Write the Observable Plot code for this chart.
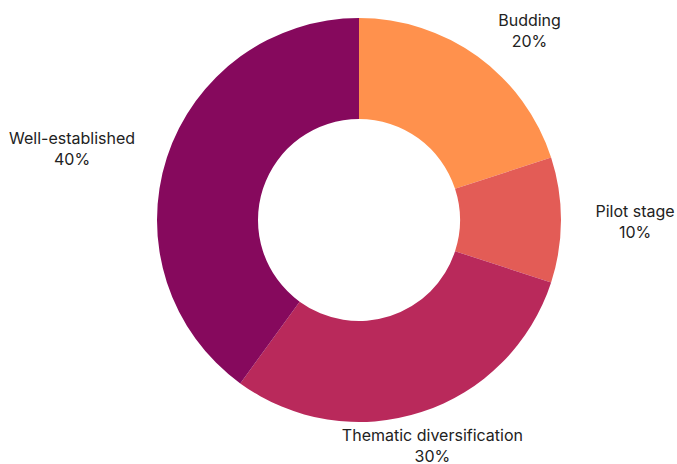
<!DOCTYPE html>
<html>
<head>
<meta charset="utf-8">
<script src="https://cdn.jsdelivr.net/npm/d3@7"></script>
<script src="https://cdn.jsdelivr.net/npm/@observablehq/plot@0.6"></script>
<style>
  html, body { margin: 0; padding: 0; background: #ffffff; }
  #chart { width: 677px; height: 464px; }
</style>
</head>
<body>
<div id="chart"></div>
<script>
// ---- Data ----
const categories = ["Budding", "Pilot stage", "Thematic diversification", "Well-established"];
const shares = [20, 10, 30, 40];
const sliceColors = ["#FF914D", "#E35C56", "#B9295B", "#86095D"];

// ---- Layout ----
const W = 677, H = 464;
const cx = 359, cy = 220;
const outerR = 202, innerR = 101;
const labelR = 236;
const FONT = "Inter, 'Noto Sans', sans-serif";
const FS = 16;

const data = categories.map((c, i) => ({category: c, value: shares[i]}));
const arcs = d3.pie().sort(null).value(d => d.value)(data);

// text measuring
const ctx = document.createElement("canvas").getContext("2d");
ctx.font = `${FS}px Inter`;
const measure = s => ctx.measureText(s).width;

const labels = arcs.map(a => {
  const mid = (a.startAngle + a.endAngle) / 2;
  const s = Math.sin(mid), c = Math.cos(mid);
  const px = cx + s * labelR;
  const py = cy - c * labelR;
  const lines = [a.data.category, a.data.value + "%"];
  const w = Math.max(...lines.map(measure));
  let x = px;
  if (s > 0.4) x = px + w / 2;
  else if (s < -0.4) x = px - w / 2;
  return {x, y: py, text: lines.join("\n"), category: a.data.category};
});

const color = d3.scaleOrdinal().domain(categories).range(sliceColors);

function donutMark(index, scales, values, dimensions) {
  const g = d3.create("svg:g");
  const arcGen = d3.arc().innerRadius(innerR).outerRadius(outerR);
  const X = scales.x(cx), Y = scales.y(cy);
  g.attr("transform", `translate(${X},${Y})`);
  g.selectAll("path")
    .data(arcs)
    .join("path")
    .attr("d", arcGen)
    .attr("fill", d => color(d.data.category));
  return g.node();
}

const chart = Plot.plot({
  width: W,
  height: H,
  margin: 0,
  x: {domain: [0, W], range: [0, W], axis: null},
  y: {domain: [0, H], range: [0, H], axis: null},
  style: {fontFamily: FONT, background: "#ffffff"},
  marks: [
    donutMark,
    Plot.text(labels, {
      x: "x", y: "y", text: "text",
      textAnchor: "middle", lineAnchor: "middle",
      lineHeight: 1.3, fontSize: FS, fill: "#222222"
    })
  ]
});
document.getElementById("chart").append(chart);
</script>
</body>
</html>
